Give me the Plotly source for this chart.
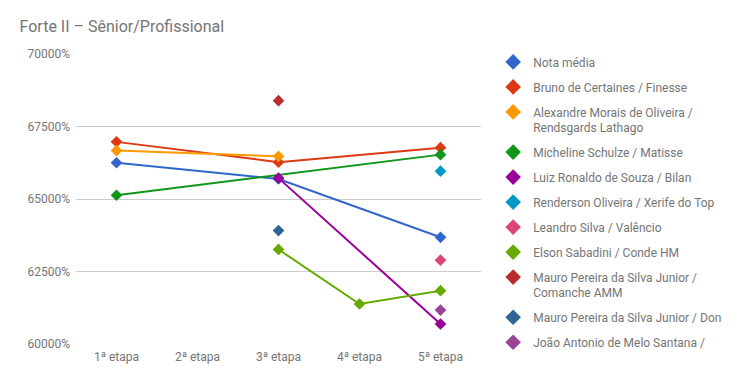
import plotly.graph_objects as go

categories = ["1ª etapa", "2ª etapa", "3ª etapa", "4ª etapa", "5ª etapa"]

nota_media = [662.5, None, 656.9, None, 636.8]
bruno = [669.7, None, 662.7, None, 667.7]
alexandre = [666.7, None, 664.7, None, None]
micheline = [651.3, None, None, None, 665.3]
luiz = [None, None, 657.2, None, 606.9]
renderson = [None, None, None, None, 659.6]
leandro = [None, None, None, None, 628.9]
elson = [None, None, 632.6, 613.8, 618.4]
mauro_comanche = [None, None, 683.9, None, None]
mauro_don = [None, None, 639.1, None, None]
joao = [None, None, None, None, 611.7]

series_names = [
    "Nota média",
    "Bruno de Certaines / Finesse",
    "Alexandre Morais de Oliveira /<br>Rendsgards Lathago",
    "Micheline Schulze / Matisse",
    "Luiz Ronaldo de Souza / Bilan",
    "Renderson Oliveira / Xerife do Top",
    "Leandro Silva / Valêncio",
    "Elson Sabadini / Conde HM",
    "Mauro Pereira da Silva Junior /<br>Comanche AMM",
    "Mauro Pereira da Silva Junior / Don",
    "João Antonio de Melo Santana /",
]
series_values = [nota_media, bruno, alexandre, micheline, luiz, renderson,
                 leandro, elson, mauro_comanche, mauro_don, joao]
colors = ["#3366cc", "#dc3912", "#ff9900", "#109618", "#990099", "#0099c6",
          "#dd4477", "#66aa00", "#b82e2e", "#316395", "#994499"]

fig = go.Figure()
for i, (name, vals, col) in enumerate(zip(series_names, series_values, colors)):
    n = sum(v is not None for v in vals)
    fig.add_trace(go.Scatter(
        x=categories, y=vals, name=name,
        mode="lines+markers" if n > 1 else "markers",
        connectgaps=True,
        line=dict(color=col, width=2),
        marker=dict(symbol="diamond", size=9, color=col),
        legendgroup="g%d" % i, showlegend=False,
    ))
# legend entries (marker only, like the reference legend)
for i, (name, col) in enumerate(zip(series_names, colors)):
    fig.add_trace(go.Scatter(
        x=[None], y=[None], name=name, mode="markers",
        marker=dict(symbol="diamond", size=9, color=col),
        legendgroup="g%d" % i, showlegend=True,
    ))

fig.update_layout(
    width=752, height=382,
    paper_bgcolor="white", plot_bgcolor="white",
    font=dict(family="Roboto", size=12, color="#757575"),
    title=dict(text="Forte II – Sênior/Profissional", x=0.026, xanchor="left",
               y=0.93, yanchor="middle",
               font=dict(family="Roboto", size=16, color="#757575")),
    margin=dict(l=76, r=271, t=54, b=38),
    showlegend=True,
    legend=dict(x=1.03, xanchor="left", y=1.022, yanchor="top",
                font=dict(family="Roboto", size=12, color="#757575"),
                tracegroupgap=6, valign="top", itemsizing="constant",
                maxheight=1.0),
    xaxis=dict(type="category", categoryorder="array", categoryarray=categories,
               range=[-0.5, 4.5], showgrid=False, showline=False, zeroline=False,
               ticks="", ticklabelstandoff=4,
               tickfont=dict(size=12, color="#757575")),
    yaxis=dict(range=[600, 700], dtick=25, tick0=600, tickformat=".0%",
               showgrid=True, gridcolor="#cccccc", gridwidth=1, zeroline=False,
               showline=False, ticks="", ticklen=0, ticklabelstandoff=5,
               tickfont=dict(size=12, color="#757575")),
)

fig.write_html("out.html", config={"displayModeBar": False},
               post_script="document.body.style.margin='0';document.body.style.overflow='hidden';")
